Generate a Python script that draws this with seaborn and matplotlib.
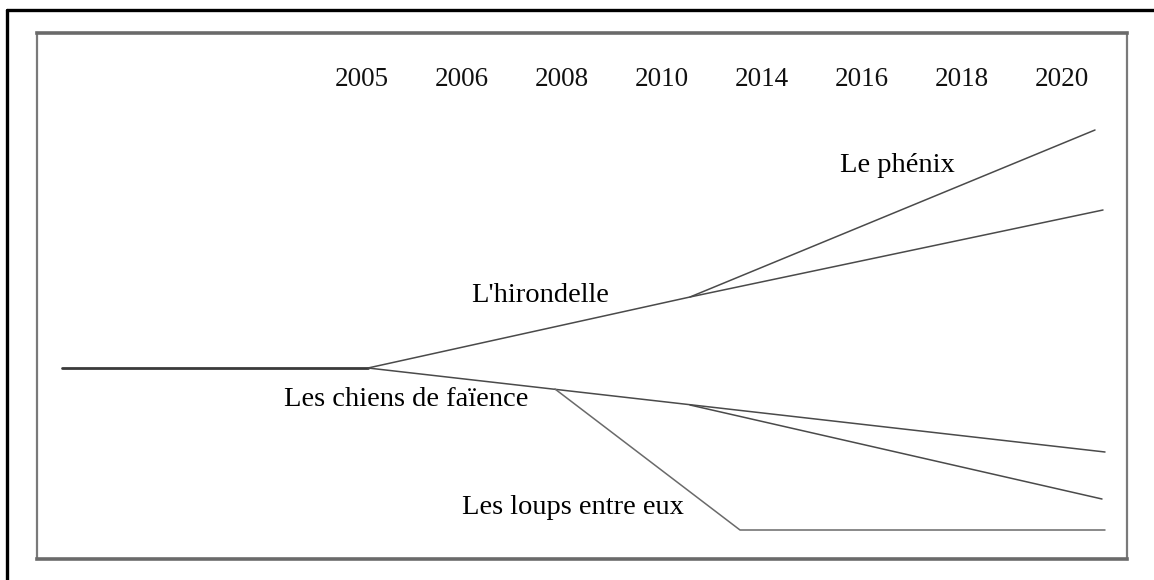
import matplotlib
matplotlib.use("Agg")
import matplotlib.pyplot as plt
from matplotlib.lines import Line2D
import seaborn as sns
import pandas as pd

# années affichées en haut (positions régulières)
years = ["2005", "2006", "2008", "2010", "2014", "2016", "2018", "2020"]

# branches du scénario : positions (en rang d'année) et niveaux relatifs
base_x = [-3.0, 0.06]
base_y = [0, 0]
hirondelle_x = [0.06, 3.28, 7.41]
hirondelle_y = [0, 71, 158]
phenix_x = [3.28, 7.33]
phenix_y = [71, 238]
chiens_x = [0.06, 7.43]
chiens_y = [0, -84]
chiens_bis_x = [3.28, 7.40]
chiens_bis_y = [-37, -131]
loups_x = [1.93, 3.78, 7.43]
loups_y = [-21, -162, -162]

# étiquettes des scénarios
labels = ["Le phénix", "L'hirondelle", "Les chiens de faïence", "Les loups entre eux"]
label_x = [5.35, 1.78, 0.44, 2.11]
label_y = [203, 73, -32, -139]

sns.set_theme(style="white")
plt.rcParams['font.family'] = ['Liberation Serif', 'DejaVu Serif']

W, H = 1154, 580
fig = plt.figure(figsize=(W / 100, H / 100), dpi=100)
fig.patch.set_facecolor("white")

# cadre intérieur
left, right, top, bottom = 37, 1127, 33, 559
ax = fig.add_axes([left / W, 1 - bottom / H, (right - left) / W, (bottom - top) / H])
ax.set_xlim((left - 362) / 100, (right - 362) / 100)
ax.set_ylim(368 - bottom, 368 - top)
ax.set_xticks([])
ax.set_yticks([])
for side, sp in ax.spines.items():
    sp.set_color("#7a7a7a")
    sp.set_linewidth(1.6)
ax.spines["bottom"].set_linewidth(2.6)
ax.spines["bottom"].set_color("#6a6a6a")
ax.spines["top"].set_linewidth(2.6)
ax.spines["top"].set_color("#6a6a6a")

branches = [
    (base_x, base_y, "#3a3a3a", 2.0),
    (hirondelle_x, hirondelle_y, "#4a4a4a", 1.1),
    (phenix_x, phenix_y, "#4a4a4a", 1.1),
    (chiens_x, chiens_y, "#4a4a4a", 1.1),
    (chiens_bis_x, chiens_bis_y, "#4a4a4a", 1.1),
    (loups_x, loups_y, "#6a6a6a", 1.1),
]
for bx, by, col, lw in branches:
    df = pd.DataFrame({"x": bx, "y": by})
    sns.lineplot(data=df, x="x", y="y", ax=ax, color=col, linewidth=lw,
                 estimator=None, sort=False, legend=False)
ax.set_xlabel("")
ax.set_ylabel("")

for i, yr in enumerate(years):
    ax.text(i, 368 - 79, yr, ha="center", va="center", fontsize=19.5, color="#111111")

for lab, lx, ly in zip(labels, label_x, label_y):
    ax.text(lx, ly, lab, ha="center", va="center", fontsize=20.5, color="#000000")

# cadre extérieur noir (coupé à droite et en bas)
fig.add_artist(Line2D([7 / W, 1.0], [1 - 10 / H, 1 - 10 / H], color="black", lw=2.4,
                      transform=fig.transFigure))
fig.add_artist(Line2D([7 / W, 7 / W], [0.0, 1 - 10 / H], color="black", lw=2.4,
                      transform=fig.transFigure))

fig.savefig("out.png", dpi=100)
